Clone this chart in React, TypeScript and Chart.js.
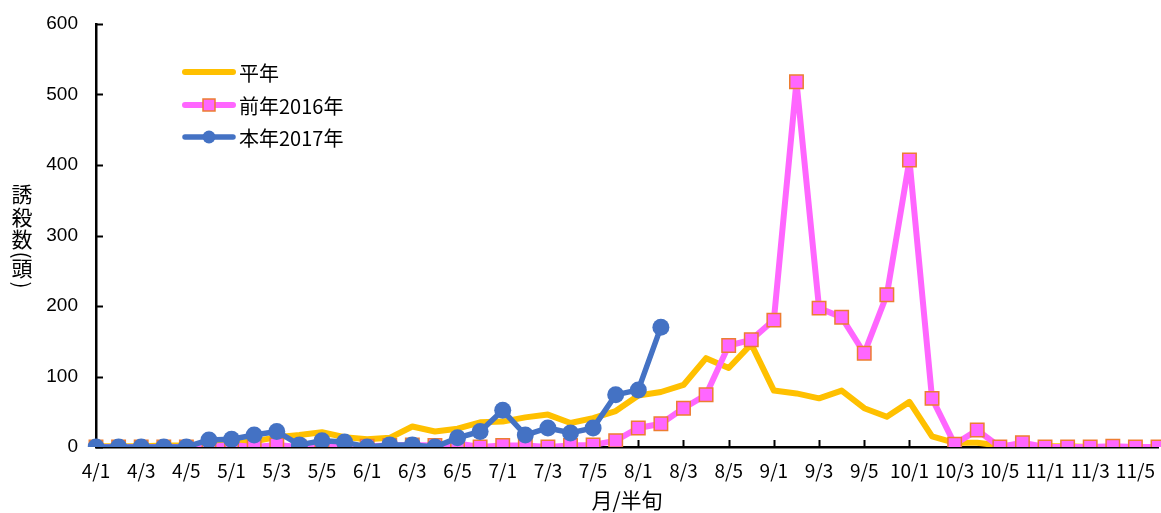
import React, { useEffect, useRef } from 'react';
import { Chart, registerables } from 'chart.js';

Chart.register(...registerables);

const categories = [
  '4/1', '4/2', '4/3', '4/4', '4/5', '4/6',
  '5/1', '5/2', '5/3', '5/4', '5/5', '5/6',
  '6/1', '6/2', '6/3', '6/4', '6/5', '6/6',
  '7/1', '7/2', '7/3', '7/4', '7/5', '7/6',
  '8/1', '8/2', '8/3', '8/4', '8/5', '8/6',
  '9/1', '9/2', '9/3', '9/4', '9/5', '9/6',
  '10/1', '10/2', '10/3', '10/4', '10/5', '10/6',
  '11/1', '11/2', '11/3', '11/4', '11/5', '11/6',
];

const normalYear = [
  1, 1, 1, 2, 2, 3,
  5, 8, 14, 17, 21, 14,
  11, 13, 29, 22, 26, 35,
  36, 42, 46, 34, 41, 51,
  73, 78, 88, 126, 112, 146,
  80, 76, 69, 80, 55, 43,
  64, 15, 6, 6, 2, 1,
  1, 1, 0, 0, 0, 0,
];

const prevYear2016 = [
  0, 0, 0, 0, 0, 0,
  3, 0, 3, 0, 3, 0,
  1, 2, 3, 2, 5, 0,
  2, 2, 0, 2, 3, 9,
  27, 33, 55, 74, 144, 152,
  180, 518, 197, 184, 133, 216,
  407, 69, 4, 24, 0, 6,
  0, 0, 0, 1, 0, 0,
];

const thisYear2017 = [
  0, 0, 0, 0, 0, 10,
  11, 17, 22, 3, 9, 7,
  0, 3, 3, 0, 13, 22,
  52, 17, 27, 20, 27, 74,
  81, 170, null, null, null, null,
  null, null, null, null, null, null,
  null, null, null, null, null, null,
  null, null, null, null, null, null,
];

const seriesNames = ['平年', '前年2016年', '本年2017年'];
const yTicks = [0, 100, 200, 300, 400, 500, 600];
const yTitleChars = ['誘', '殺', '数', '(', '頭', ')'];
const xTitle = '月/半旬';

const CJK = '"Noto Sans CJK JP", "Noto Sans", sans-serif';

const customPlugin = {
  id: 'customDecor',
  beforeDatasetsDraw(chart: any) {
    const { ctx, chartArea, scales } = chart;
    const x = scales.x;
    const y = scales.y;
    ctx.save();
    ctx.strokeStyle = '#000';
    ctx.lineWidth = 2;
    yTicks.forEach((v) => {
      const py = Math.round(y.getPixelForValue(v)) + 0.5;
      ctx.beginPath();
      ctx.moveTo(chartArea.left, py);
      ctx.lineTo(chartArea.left + 7, py);
      ctx.stroke();
    });
    categories.forEach((_c, i) => {
      if (i % 2 === 0 && i > 0) {
        const px = Math.round(x.getPixelForValue(i)) + 0.5;
        ctx.beginPath();
        ctx.moveTo(px, chartArea.bottom);
        ctx.lineTo(px, chartArea.bottom - 7);
        ctx.stroke();
      }
    });
    ctx.restore();
  },
  afterDraw(chart: any) {
    const { ctx, chartArea } = chart;
    ctx.save();
    // Legend
    const rows = [72, 105, 137];
    const x0 = chartArea.left + 89;
    const x1 = chartArea.left + 137;
    chart.data.datasets.forEach((ds: any, i: number) => {
      const ry = rows[i];
      ctx.strokeStyle = ds.borderColor;
      ctx.lineWidth = ds.borderWidth;
      ctx.lineCap = 'round';
      ctx.beginPath();
      ctx.moveTo(x0, ry);
      ctx.lineTo(x1, ry);
      ctx.stroke();
      const cx = (x0 + x1) / 2;
      if (ds.pointStyle === 'rect') {
        ctx.fillStyle = ds.pointBackgroundColor;
        ctx.strokeStyle = ds.pointBorderColor;
        ctx.lineWidth = 1.5;
        ctx.fillRect(cx - 6, ry - 6, 12, 12);
        ctx.strokeRect(cx - 6, ry - 6, 12, 12);
      } else if (ds.pointStyle === 'circle') {
        ctx.fillStyle = ds.pointBackgroundColor;
        ctx.beginPath();
        ctx.arc(cx, ry, 6.5, 0, Math.PI * 2);
        ctx.fill();
      }
      ctx.fillStyle = '#000';
      ctx.font = `20px ${CJK}`;
      ctx.textAlign = 'left';
      ctx.textBaseline = 'middle';
      ctx.fillText(seriesNames[i], x1 + 6, ry + 1);
    });
    // Vertical Y title
    ctx.fillStyle = '#000';
    ctx.font = `21px ${CJK}`;
    ctx.textAlign = 'center';
    ctx.textBaseline = 'middle';
    const tx = 22;
    const pos = [194, 217, 239, 255, 268, 285];
    yTitleChars.forEach((ch, i) => {
      if (ch === '(' || ch === ')') {
        ctx.save();
        ctx.translate(tx, pos[i]);
        ctx.rotate(Math.PI / 2);
        ctx.fillText(ch, 0, 0);
        ctx.restore();
      } else {
        ctx.fillText(ch, tx, pos[i]);
      }
    });
    ctx.restore();
  },
};

export default function App() {
  const canvasRef = useRef<HTMLCanvasElement | null>(null);

  useEffect(() => {
    if (!canvasRef.current) return;
    const chart = new Chart(canvasRef.current, {
      type: 'line',
      data: {
        labels: categories,
        datasets: [
          {
            label: seriesNames[0],
            data: normalYear,
            borderColor: '#FFC000',
            backgroundColor: '#FFC000',
            borderWidth: 6,
            borderJoinStyle: 'round',
            borderCapStyle: 'round',
            pointRadius: 0,
            pointHoverRadius: 0,
            pointStyle: false as any,
            tension: 0,
            order: 3,
          },
          {
            label: seriesNames[1],
            data: prevYear2016,
            borderColor: '#FF66FF',
            backgroundColor: '#FF66FF',
            borderWidth: 6,
            borderJoinStyle: 'round',
            borderCapStyle: 'round',
            pointStyle: 'rect',
            pointRadius: 9.5,
            pointBackgroundColor: '#FF66FF',
            pointBorderColor: '#ED7D31',
            pointBorderWidth: 1.5,
            tension: 0,
            order: 2,
          },
          {
            label: seriesNames[2],
            data: thisYear2017,
            borderColor: '#4472C4',
            backgroundColor: '#4472C4',
            borderWidth: 5.5,
            borderJoinStyle: 'round',
            borderCapStyle: 'round',
            pointStyle: 'circle',
            pointRadius: 8.5,
            pointBackgroundColor: '#4472C4',
            pointBorderColor: '#4472C4',
            pointBorderWidth: 0,
            tension: 0,
            spanGaps: false,
            order: 1,
          },
        ],
      },
      options: {
        responsive: false,
        maintainAspectRatio: false,
        animation: false,
        devicePixelRatio: 1,
        layout: { autoPadding: false, padding: { left: 0, right: 3, top: 24, bottom: 0 } },
        plugins: {
          legend: { display: false },
          tooltip: { enabled: false },
        },
        scales: {
          x: {
            type: 'category',
            offset: false,
            grid: { display: false, drawTicks: false },
            border: { display: true, color: '#000', width: 2.5 },
            ticks: {
              autoSkip: false,
              maxRotation: 0,
              minRotation: 0,
              padding: 12,
              color: '#000',
              font: { family: CJK, size: 19 },
              callback: (_v: any, i: number) => (i % 2 === 0 ? categories[i] : ''),
            },
            title: {
              display: true,
              text: xTitle,
              color: '#000',
              font: { family: CJK, size: 21 },
              padding: { top: 0, bottom: 0 },
            },
            afterFit: (scale: any) => {
              scale.height = 66;
              scale.paddingLeft = 0;
              scale.paddingRight = 0;
            },
          },
          y: {
            min: 0,
            max: 600,
            grid: { display: false, drawTicks: false },
            border: { display: true, color: '#000', width: 2.5 },
            ticks: {
              stepSize: 100,
              padding: 18,
              color: '#000',
              font: { family: '"Liberation Sans", Arial, sans-serif', size: 19 },
            },
            afterFit: (scale: any) => {
              scale.width = 96;
              scale.paddingTop = 0;
              scale.paddingBottom = 0;
            },
          },
        },
      },
      plugins: [customPlugin],
    });
    return () => chart.destroy();
  }, []);

  return (
    <div style={{ position: 'absolute', left: 0, top: 0, width: 1161, height: 513 }}>
      <canvas ref={canvasRef} width={1161} height={513} />
    </div>
  );
}
